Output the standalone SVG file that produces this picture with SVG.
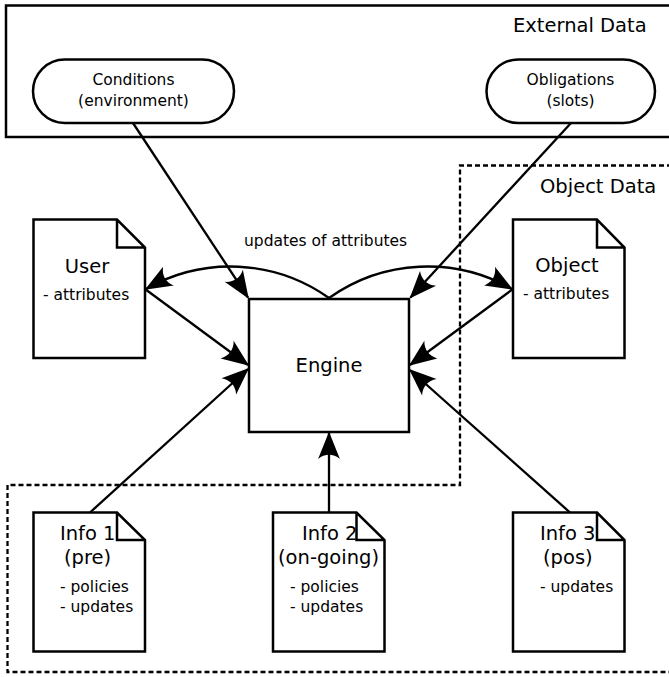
<svg xmlns="http://www.w3.org/2000/svg" width="669" height="677" viewBox="0 0 669 677">
<style>
  .shape { fill: #fff; stroke: #000; stroke-width: 2.5; stroke-linejoin: miter; }
  .frame { fill: none; stroke: #000; stroke-width: 2.5; }
  .dash { fill: none; stroke: #000; stroke-width: 2.3; stroke-dasharray: 5,3; }
  .conn { fill: none; stroke: #000; stroke-width: 2.3; marker-end: url(#arr); }
  text { font-family: "DejaVu Sans", "Liberation Sans", sans-serif; fill: #000; }
  .big { font-size: 19.5px; }
  .mid { font-size: 15.5px; }
  .sm { font-size: 15.5px; }
  .c { text-anchor: middle; }
</style>
<defs>
  <marker id="arr" markerUnits="userSpaceOnUse" markerWidth="30" markerHeight="30" viewBox="-20 -10 22 20" refX="0" refY="0" orient="auto" overflow="visible">
    <path d="M1,0 L-19,-8 C-15,-3 -15,3 -19,8 Z" fill="#000"/>
  </marker>
</defs>
<rect width="669" height="677" fill="#fff"/>

<g id="external-data">
  <rect class="frame" x="6" y="5.5" width="670" height="131.5"/>
  <text class="big" x="513" y="32">External Data</text>
</g>
<g id="object-data">
  <path class="dash" d="M672,165.5 H460 V485 H7.5 V672 H672"/>
  <text class="big" x="540" y="192.5">Object Data</text>
</g>

<g id="conditions">
  <rect class="shape" x="33" y="59.5" width="201" height="63.5" rx="31.75"/>
  <text class="mid c" x="133.5" y="85">Conditions</text>
  <text class="mid c" x="133.5" y="106">(environment)</text>
</g>
<g id="obligations">
  <rect class="shape" x="486.5" y="59.5" width="168.5" height="63.5" rx="31.75"/>
  <text class="mid c" x="570.5" y="85">Obligations</text>
  <text class="mid c" x="570.5" y="106">(slots)</text>
</g>

<g id="user">
  <path class="shape" d="M33.5,219.5 H117 L145,247.5 V358 H33.5 Z M117,219.5 V247.5 H145"/>
  <text class="big c" x="87" y="272.5">User</text>
  <text class="mid" x="43" y="299.5">- attributes</text>
</g>
<g id="object">
  <path class="shape" d="M513,219.5 H597 L624.5,247.5 V358 H513 Z M597,219.5 V247.5 H624.5"/>
  <text class="big c" x="567" y="272">Object</text>
  <text class="mid" x="523" y="298.5">- attributes</text>
</g>
<g id="engine">
  <rect class="shape" x="249" y="299" width="160" height="133"/>
  <text class="big c" x="329" y="372">Engine</text>
</g>

<g id="info1">
  <path class="shape" d="M33.5,512.5 H117 L145,540 V651.5 H33.5 Z M117,512.5 V540 H145"/>
  <text class="big" x="60" y="539.5">Info 1</text>
  <text class="big" x="64" y="564">(pre)</text>
  <text class="sm" x="60" y="592">- policies</text>
  <text class="sm" x="60" y="612">- updates</text>
</g>
<g id="info2">
  <path class="shape" d="M273,512.5 H356.5 L384.5,540 V651.5 H273 Z M356.5,512.5 V540 H384.5"/>
  <text class="big" x="302" y="539.5">Info 2</text>
  <text class="big" x="278" y="564">(on-going)</text>
  <text class="sm" x="290" y="592">- policies</text>
  <text class="sm" x="290" y="612">- updates</text>
</g>
<g id="info3">
  <path class="shape" d="M513,512.5 H597 L624.5,540 V651.5 H513 Z M597,512.5 V540 H624.5"/>
  <text class="big" x="540" y="539.5">Info 3</text>
  <text class="big" x="543" y="564">(pos)</text>
  <text class="sm" x="540" y="592">- updates</text>
</g>

<g id="connectors">
  <path class="conn" d="M133,123 L248,297.5"/>
  <path class="conn" d="M571,123 L410.5,297.5"/>
  <path class="conn" d="M329,298 A170,170 0 0 0 146,289"/>
  <path class="conn" d="M329,298 A170,170 0 0 1 512,289"/>
  <path class="conn" d="M145,289 L248,365"/>
  <path class="conn" d="M90,512.5 L248,369"/>
  <path class="conn" d="M513,289 L410,365"/>
  <path class="conn" d="M570,512.5 L410,370"/>
  <path class="conn" d="M329,512.5 L329,433"/>
  <text class="mid" x="244" y="245.5">updates of attributes</text>
</g>
</svg>
